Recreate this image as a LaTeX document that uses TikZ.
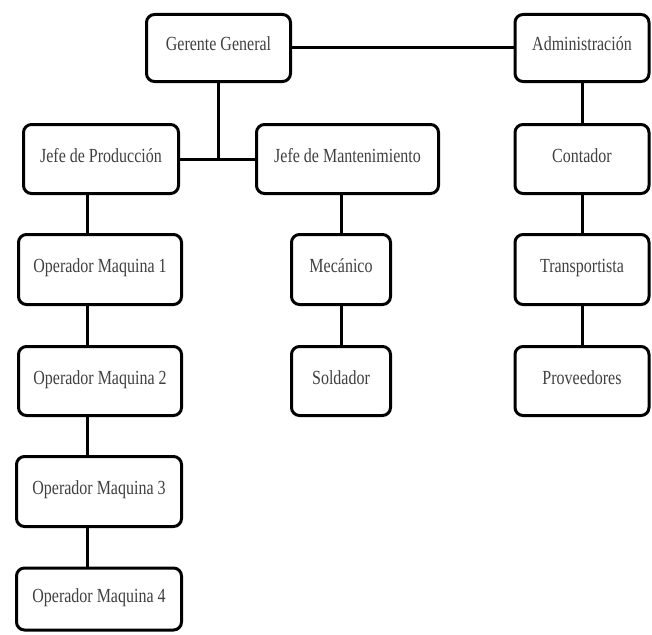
\documentclass[tikz,border=0pt]{standalone}
\usepackage{fontspec}
\setmainfont{Liberation Serif}[FakeStretch=0.8]

\begin{document}
\begin{tikzpicture}[x=1pt, y=-1pt, line width=3pt,
        box node/.style={draw, rounded corners=8pt, text=black!75, inner sep=0pt,
            font=\fontsize{20}{23}\selectfont, text height=13pt, text depth=7pt,
            minimum height=69pt}]
    \useasboundingbox (0,0) rectangle (652,634);

    % Puestos
    \node[box node, minimum width=144pt, minimum height=67pt] (gg) at (218.5,48) {Gerente General};
    \node[box node, minimum width=134pt, minimum height=67pt] (adm) at (582,48) {Administración};
    \node[box node, minimum width=155pt] (jp) at (101,159) {Jefe de Producción};
    \node[box node, minimum width=182pt] (jm) at (347.5,159) {Jefe de Mantenimiento};
    \node[box node, minimum width=134pt] (cont) at (582,159) {Contador};
    \node[box node, minimum width=163pt, minimum height=70pt] (op1) at (100,269.5) {Operador Maquina 1};
    \node[box node, minimum width=99pt, minimum height=70pt] (mec) at (341,269.5) {Mecánico};
    \node[box node, minimum width=134pt, minimum height=70pt] (tra) at (582,269.5) {Transportista};
    \node[box node, minimum width=163pt] (op2) at (100,381) {Operador Maquina 2};
    \node[box node, minimum width=99pt] (sol) at (341,381) {Soldador};
    \node[box node, minimum width=134pt] (prov) at (582,381) {Proveedores};
    \node[box node, minimum width=165pt, minimum height=70pt] (op3) at (99,491.5) {Operador Maquina 3};
    \node[box node, minimum width=165pt, minimum height=62pt] (op4) at (99,599) {Operador Maquina 4};
    \coordinate (spine) at (87,0);

    % Lineas
    \path (gg) edge[] (adm);
    \draw (gg.south) -- (gg.south |- jp.east);
    \path (jp) edge[] (jm);
    \draw (mec.north |- jm.south) -- (mec.north);
    \path (mec) edge[] (sol);
    \draw (jp.south -| spine) -- (op1.north -| spine);
    \draw (op1.south -| spine) -- (op2.north -| spine);
    \draw (op2.south -| spine) -- (op3.north -| spine);
    \draw (op3.south -| spine) -- (op4.north -| spine);
    \path (adm) edge[] (cont);
    \path (cont) edge[] (tra);
    \path (tra) edge[] (prov);
\end{tikzpicture}
\end{document}
